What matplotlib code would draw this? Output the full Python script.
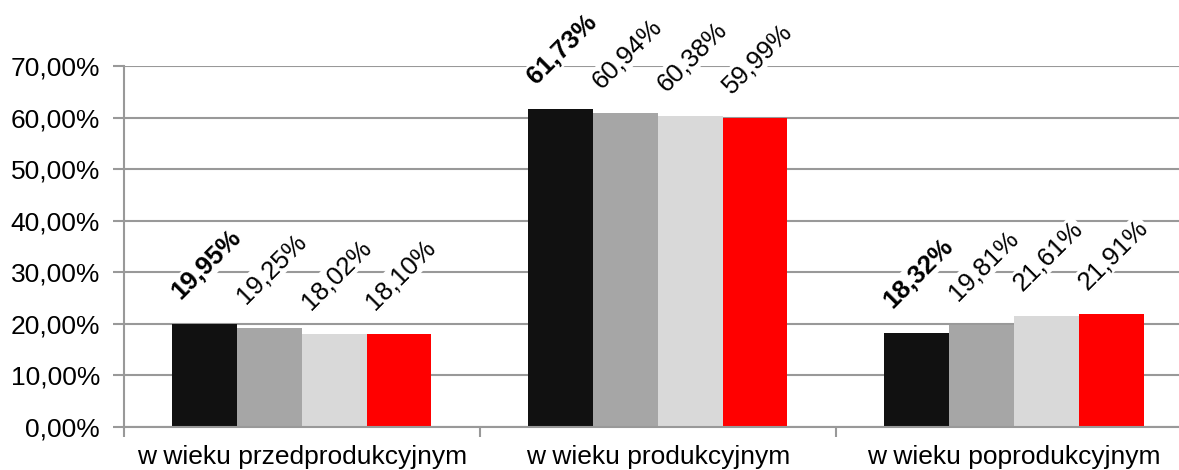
import numpy as np
import matplotlib.pyplot as plt
from matplotlib.ticker import FuncFormatter, FixedLocator

# dane
kategorie = ['w wieku przedprodukcyjnym', 'w wieku produkcyjnym', 'w wieku poprodukcyjnym']
seria_1 = [19.95, 61.73, 18.32]
seria_2 = [19.25, 60.94, 19.81]
seria_3 = [18.02, 60.38, 21.61]
seria_4 = [18.10, 59.99, 21.91]

serie = [seria_1, seria_2, seria_3, seria_4]
kolory = ['#111111', '#a6a6a6', '#d9d9d9', '#ff0000']

plt.rcParams['font.family'] = ['Liberation Sans', 'DejaVu Sans']

fig = plt.figure(figsize=(11.79, 4.70), dpi=100)
# os wychodzi troche poza prawa krawedz, jak w oryginale
ax = fig.add_axes([0.105, 0.0915, 0.906, 0.768])

x = np.arange(len(kategorie))
szer = 0.182
przes = [-1.5, -0.5, 0.5, 1.5]

for i, (wart, kol) in enumerate(zip(serie, kolory)):
    pos = x + przes[i] * szer
    ax.bar(pos, wart, width=szer, color=kol, zorder=2)
    for xp, v in zip(pos, wart):
        etykieta = f'{v:.2f}%'.replace('.', ',')
        ax.annotate(etykieta, xy=(xp - szer / 2, v), xytext=(6, 17),
                    textcoords='offset points', rotation=45,
                    rotation_mode='anchor', ha='left', va='baseline',
                    fontsize=18.5, fontweight='bold' if i == 0 else 'normal',
                    bbox=dict(facecolor='white', edgecolor='none', pad=1),
                    zorder=3)

ax.set_ylim(0, 70)
ax.set_xlim(-0.5, 2.5)
ax.set_yticks(np.arange(0, 71, 10))
ax.yaxis.set_major_formatter(FuncFormatter(lambda v, p: f'{v:.2f}%'.replace('.', ',')))
ax.grid(axis='y', color='#999999', linewidth=1.5, zorder=0)
ax.set_axisbelow(True)

ax.set_xticks(x)
ax.set_xticklabels(kategorie)
ax.tick_params(axis='x', which='major', length=0, labelsize=19, pad=13)
ax.xaxis.set_minor_locator(FixedLocator([-0.5, 0.5, 1.5, 2.5]))
ax.tick_params(axis='x', which='minor', length=7, width=1.5, color='#999999')
ax.tick_params(axis='y', length=8, width=1.5, color='#999999', labelsize=19, pad=9)

for s in ['top', 'right']:
    ax.spines[s].set_visible(False)
for s in ['left', 'bottom']:
    ax.spines[s].set_color('#999999')
    ax.spines[s].set_linewidth(1.5)

fig.savefig('out.png', dpi=100)
